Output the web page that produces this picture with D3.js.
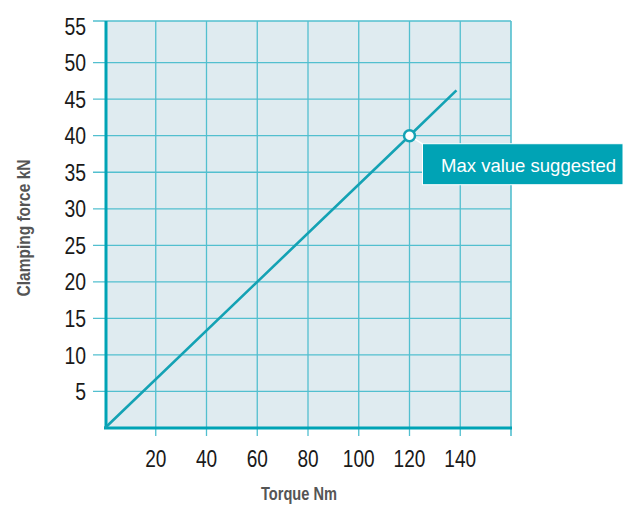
<!DOCTYPE html>
<html><head><meta charset="utf-8">
<script src="https://cdn.jsdelivr.net/npm/d3@7"></script>
<style>body{margin:0;background:#fff;}svg{display:block;}</style>
</head><body>
<svg id="c" width="624" height="505"></svg>
<script>
const torque = [0, 120, 138.5];
const force = [0, 40, 46.2];
const xTicks = [20, 40, 60, 80, 100, 120, 140];
const yTicks = [5, 10, 15, 20, 25, 30, 35, 40, 45, 50, 55];
const markerTorque = 120, markerForce = 40;
const calloutText = "Max value suggested";
const xTitle = "Torque Nm", yTitle = "Clamping force kN";

const svg = d3.select("#c");
const L = 105, R = 511, T = 21, B = 428;
const x = d3.scaleLinear().domain([0, 160]).range([L, R]);
const y = d3.scaleLinear().domain([0, 55.7]).range([B, T]);
const teal = "#00a3b5", grid = "#52bfcf";
const font = "'Liberation Sans Narrow','Arial Narrow','Liberation Sans',sans-serif";

svg.append("rect").attr("x", L).attr("y", T).attr("width", R - L).attr("height", B - T).attr("fill", "#dfebf0");

// grid
const g = svg.append("g");
g.selectAll(".vx").data(xTicks).join("line")
  .attr("x1", d => x(d)).attr("x2", d => x(d)).attr("y1", T).attr("y2", B + 8)
  .attr("stroke", grid).attr("stroke-width", 1.3);
g.append("line").attr("x1", R).attr("x2", R).attr("y1", T).attr("y2", B + 8).attr("stroke", grid).attr("stroke-width", 1.6);
g.selectAll(".hy").data(yTicks.filter(d => d < 55)).join("line")
  .attr("x1", L - 12).attr("x2", R).attr("y1", d => y(d)).attr("y2", d => y(d))
  .attr("stroke", grid).attr("stroke-width", 1.3);
g.append("line").attr("x1", L - 12).attr("x2", R).attr("y1", T).attr("y2", T).attr("stroke", grid).attr("stroke-width", 1.6);

// axes
svg.append("line").attr("x1", L + 1).attr("x2", L + 1).attr("y1", T).attr("y2", B + 1).attr("stroke", teal).attr("stroke-width", 3);
svg.append("line").attr("x1", L - 1).attr("x2", R + 1).attr("y1", B).attr("y2", B).attr("stroke", teal).attr("stroke-width", 3);

// tick labels (narrow look via textLength)
svg.selectAll(".yl").data(yTicks).join("text")
  .attr("x", 86).attr("y", d => y(d)).attr("dy", "0.36em").attr("text-anchor", "end")
  .attr("font-family", font).attr("font-size", 24).attr("fill", "#1a1a1a")
  .attr("textLength", d => String(d).length * 10.8).attr("lengthAdjust", "spacingAndGlyphs").text(d => d);
svg.selectAll(".xl").data(xTicks).join("text")
  .attr("x", d => x(d)).attr("y", 467).attr("text-anchor", "middle")
  .attr("font-family", font).attr("font-size", 24).attr("fill", "#1a1a1a")
  .attr("textLength", d => String(d).length * 10.6).attr("lengthAdjust", "spacingAndGlyphs").text(d => d);

// titles
svg.append("text").attr("x", 299).attr("y", 500).attr("text-anchor", "middle")
  .attr("font-family", font).attr("font-weight", "bold").attr("font-size", 18).attr("fill", "#555")
  .attr("textLength", 76).attr("lengthAdjust", "spacingAndGlyphs").text(xTitle);
svg.append("text").attr("transform", "translate(30,228) rotate(-90)").attr("text-anchor", "middle")
  .attr("font-family", font).attr("font-weight", "bold").attr("font-size", 18).attr("fill", "#555")
  .attr("textLength", 137).attr("lengthAdjust", "spacingAndGlyphs").text(yTitle);

// line
const line = d3.line().x((d, i) => x(torque[i])).y((d, i) => y(force[i]));
svg.append("path").datum(torque).attr("d", line).attr("fill", "none").attr("stroke", "#14a2b4").attr("stroke-width", 2.6);

// callout
const mx = x(markerTorque), my = y(markerForce);
svg.append("line").attr("x1", mx).attr("y1", my).attr("x2", mx + 14).attr("y2", my + 9).attr("stroke", "#fff").attr("stroke-width", 1.5);
svg.append("rect").attr("x", mx + 13).attr("y", my + 8).attr("width", 623 - (mx + 13)).attr("height", 41)
  .attr("fill", teal).attr("stroke", "#fff").attr("stroke-width", 1);
svg.append("text").attr("x", 441).attr("y", 172).attr("font-family", font).attr("font-size", 18.5).attr("fill", "#fff")
  .attr("textLength", 175).attr("lengthAdjust", "spacingAndGlyphs").text(calloutText);
svg.append("circle").attr("cx", mx).attr("cy", my).attr("r", 5.5).attr("fill", "#fff").attr("stroke", "#14a2b4").attr("stroke-width", 2.5);
</script>
</body></html>
